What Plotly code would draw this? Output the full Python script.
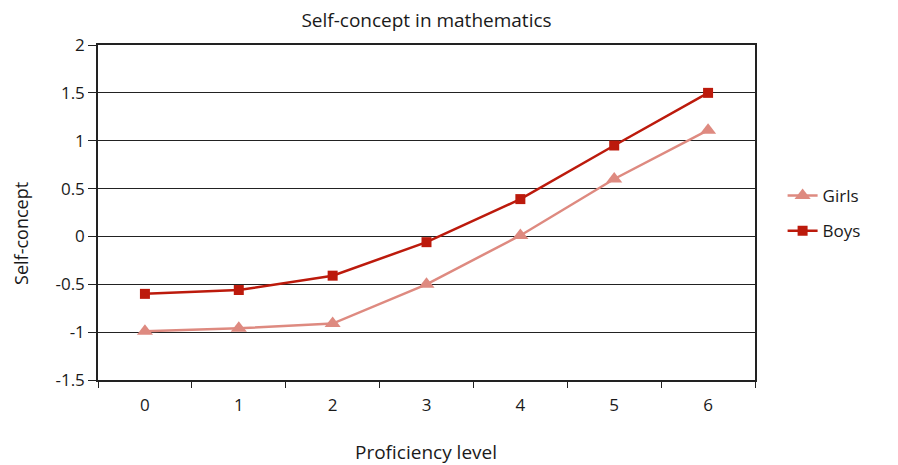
import plotly.graph_objects as go

levels = ["0", "1", "2", "3", "4", "5", "6"]
girls = [-0.99, -0.96, -0.91, -0.50, 0.01, 0.60, 1.11]
boys = [-0.60, -0.56, -0.41, -0.06, 0.39, 0.95, 1.50]

font_family = "Open Sans, Noto Sans, sans-serif"
ink = "#1a1a1a"

fig = go.Figure()
fig.add_trace(go.Scatter(
    x=levels, y=girls, name="Girls", mode="lines+markers", legendgroup="g",
    line=dict(color="#DE8A80", width=2.5),
    marker=dict(symbol="triangle-up", size=14, color="#DE8A80")))
fig.add_trace(go.Scatter(
    x=levels, y=boys, name="Boys", mode="lines+markers", legendgroup="b",
    line=dict(color="#BC1A0C", width=2.5),
    marker=dict(symbol="square", size=10, color="#BC1A0C")))

# page body adds ~8px offset, so margins are pulled in by that much
fig.update_layout({
    "width": 898, "height": 465,
    "margin": dict(l=90, r=151, t=37, b=93, autoexpand=False),
    "paper_bgcolor": "white",
    "plot_bgcolor": "white",
    "font": {"family": font_family, "size": 16, "color": ink},
    "title": dict(text="Self-concept in mathematics", x=0.5, xanchor="center",
                  xref="paper", y=1 - 12 / 465, yref="container",
                  yanchor="middle", font=dict(size=19, color=ink)),
    "showlegend": True,
    "legend": dict(x=1.042, y=0.497, xanchor="left", yanchor="middle",
                   font=dict(size=17, color=ink), tracegroupgap=10),
    "annotations": [
        dict(text="Self-concept", xref="paper", yref="paper", x=0, y=0.436,
             xshift=-77, xanchor="center", yanchor="middle", textangle=-90,
             showarrow=False, font=dict(size=18, color=ink)),
        dict(text="Proficiency level", xref="paper", yref="paper", x=0.499, y=0,
             yshift=-72, xanchor="center", yanchor="middle", showarrow=False,
             font=dict(size=19, color=ink)),
    ],
})
fig.update_xaxes(
    type="category", tickson="boundaries", ticks="outside", ticklen=6,
    tickcolor="#222", showline=True, linecolor="#222", linewidth=1.5,
    mirror=True, showgrid=False, range=[-0.5, 6.5], automargin=False,
    ticklabelstandoff=9, tickfont=dict(size=17, color=ink))
fig.update_yaxes(
    range=[-1.5, 2], tickvals=[-1.5, -1, -0.5, 0, 0.5, 1, 1.5, 2],
    ticktext=["-1.5", "-1", "-0.5", "0", "0.5", "1", "1.5", "2"],
    ticks="outside", ticklen=8, tickcolor="#222", automargin=False,
    tickfont=dict(size=17, color=ink),
    showline=True, linecolor="#222", linewidth=1.5, mirror=True,
    showgrid=True, gridcolor="#222", gridwidth=1.2, zeroline=False)

fig.write_html("out.html")
